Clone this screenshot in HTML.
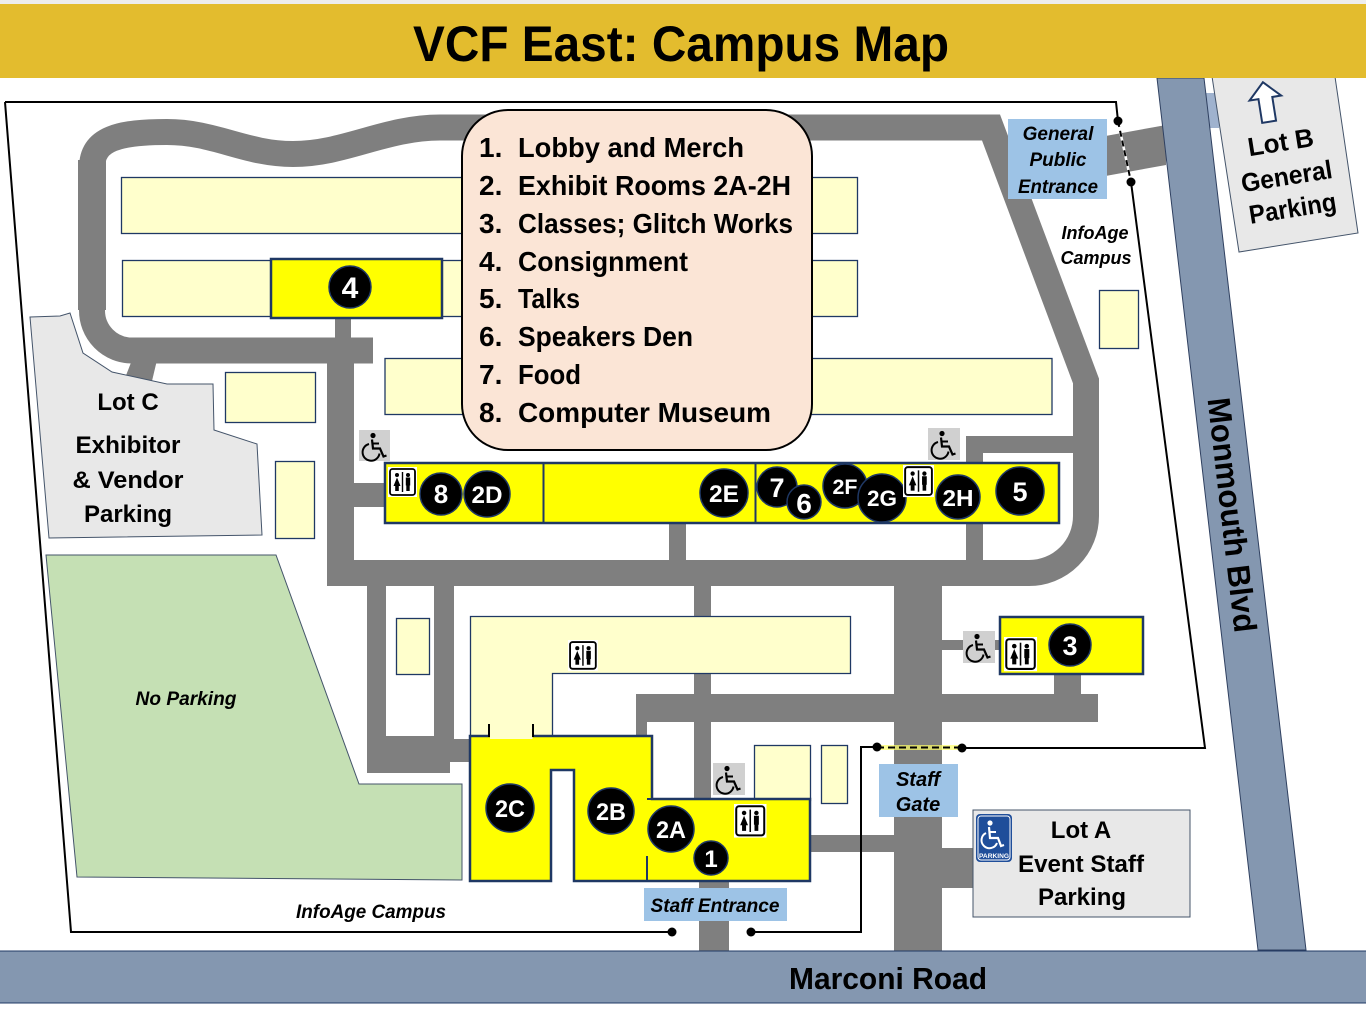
<!DOCTYPE html>
<html><head><meta charset="utf-8"><style>
html,body{margin:0;padding:0;background:#fff;}
svg{display:block;}
text{font-family:"Liberation Sans",sans-serif;}
</style></head><body>
<svg width="1366" height="1018" viewBox="0 0 1366 1018" xmlns="http://www.w3.org/2000/svg">
<rect x="0" y="0" width="1366" height="1018" fill="#fff"/>

<!-- No Parking -->
<polygon points="46,555 276,555 359,784 462,784 462,880 77,877" fill="#C5E0B4" stroke="#44546A" stroke-width="1"/>
<text x="186" y="705" font-size="19" font-weight="bold" font-style="italic" text-anchor="middle" textLength="101" lengthAdjust="spacingAndGlyphs">No Parking</text>

<!-- stub road into Lot C -->
<polygon points="132,360 157,360 152,381 125,378" fill="#7F7F7F"/>
<!-- Lot C -->
<polygon points="30,317 60,316 70,313 83,353 112,372 167,384 213,384 214,430 257,444 262,535 49,538" fill="#E8E8E8" stroke="#44546A" stroke-width="1"/>
<g font-size="24" font-weight="bold" text-anchor="middle">
<text x="128" y="410">Lot C</text>
<text x="128" y="453" textLength="105" lengthAdjust="spacingAndGlyphs">Exhibitor</text>
<text x="128" y="488" textLength="111" lengthAdjust="spacingAndGlyphs">&amp; Vendor</text>
<text x="128" y="522">Parking</text>
</g>

<!-- Roads -->
<g fill="#7F7F7F">
<rect x="78" y="160" width="28" height="150"/>
<rect x="335" y="316" width="16" height="24"/>
<rect x="327" y="362" width="27" height="224"/>
<rect x="353" y="483" width="33" height="24"/>
<rect x="367" y="585" width="19" height="188"/>
<rect x="434" y="585" width="20" height="177"/>
<rect x="367" y="736" width="83" height="37"/>
<rect x="434" y="739" width="38" height="23"/>
<rect x="669" y="521" width="17" height="41"/>
<rect x="694" y="585" width="17" height="215"/>
<rect x="636" y="694" width="462" height="28"/>
<rect x="636" y="694" width="11" height="42"/>
<rect x="894" y="585" width="48" height="366"/>
<rect x="942" y="640" width="58" height="10"/>
<rect x="1054" y="673" width="27" height="22"/>
<rect x="808" y="835" width="86" height="17"/>
<rect x="942" y="848" width="32" height="40"/>
<rect x="699" y="880" width="30" height="71"/>
<rect x="966" y="436" width="17" height="126"/>
<rect x="966" y="436" width="120" height="17"/>
<polygon points="1100,137 1166,125 1166,165 1100,177"/>
</g>
<path d="M373,350.5 L132,350.5 A40,40 0 0 1 92,310 L92,168 C92,138 120,132 167,132 C215,132 245,154 293,154 C345,154 385,127.5 440,127.5 L991,127.5 L1086,381 L1086,516 A57,57 0 0 1 1029,573 L327,573" fill="none" stroke="#7F7F7F" stroke-width="26" stroke-linejoin="miter"/>
<rect x="440" y="116" width="552" height="23" fill="#7F7F7F"/>

<!-- Light yellow buildings -->
<g fill="#FFFFCC" stroke="#1F3864" stroke-width="1.3">
<rect x="121.5" y="177.5" width="736" height="56"/>
<rect x="122.5" y="260.5" width="735" height="56"/>
<rect x="385" y="358.5" width="667" height="56"/>
<rect x="225.5" y="372.5" width="90" height="50"/>
<rect x="275.5" y="461.5" width="39" height="77"/>
<rect x="396.5" y="618.5" width="33" height="56"/>
<rect x="1099.5" y="290.5" width="39" height="58"/>
<rect x="754.5" y="745.5" width="56" height="55"/>
<rect x="821.5" y="745.5" width="26" height="58"/>
<polygon points="470.5,616.5 850.5,616.5 850.5,673.5 552.5,673.5 552.5,736 470.5,736"/>
</g>

<!-- Boundary -->
<g fill="none" stroke="#000" stroke-width="2">
<polyline points="5,102 1116,102 1118,121"/>
<polyline points="1131,182 1205,748 962,748"/>
<polyline points="877,747 861,747 861,932 751,932"/>
<polyline points="672,932 71,932 5,102"/>
</g>
<line x1="1118" y1="121" x2="1131" y2="182" stroke="#fff" stroke-width="2.5"/>
<line x1="1118" y1="121" x2="1131" y2="182" stroke="#000" stroke-width="2" stroke-dasharray="6,4"/>
<line x1="877" y1="747.5" x2="962" y2="747.5" stroke="#FFFF66" stroke-width="5" opacity="0.7"/>
<line x1="877" y1="747.5" x2="962" y2="747.5" stroke="#000" stroke-width="2" stroke-dasharray="7,4"/>
<g fill="#000">
<circle cx="1118" cy="121" r="4.5"/><circle cx="1131" cy="182" r="4.5"/>
<circle cx="877" cy="747" r="4.5"/><circle cx="962" cy="748" r="4.5"/>
<circle cx="751" cy="932" r="4.5"/><circle cx="672" cy="932" r="4.5"/>
</g>

<!-- Monmouth Blvd -->
<rect x="1205" y="93" width="14" height="35" fill="#9FB2CE"/>
<polygon points="1157,78 1204,78 1306,950 1258,950" fill="#8497B0" stroke="#2F4060" stroke-width="1"/>
<text transform="translate(1232,515) rotate(83.4)" font-size="32" font-weight="bold" text-anchor="middle" dominant-baseline="central" textLength="236" lengthAdjust="spacingAndGlyphs">Monmouth Blvd</text>

<!-- Marconi Road -->
<rect x="-2" y="951" width="1370" height="52" fill="#8497B0" stroke="#1F3864" stroke-width="1"/>
<text x="888" y="989" font-size="31" font-weight="bold" text-anchor="middle" textLength="198" lengthAdjust="spacingAndGlyphs">Marconi Road</text>

<!-- Yellow buildings -->
<g fill="#FFFF00" stroke="#1F3864" stroke-width="2.5">
<rect x="271" y="259" width="171" height="59"/>
<rect x="385" y="463" width="674" height="60"/>
<rect x="1000" y="617" width="143" height="57"/>
<polygon points="470,736 652,736 652,799 810,799 810,881 574,881 574,770 551,770 551,881 470,881"/>
</g>
<g stroke="#1F3864" stroke-width="2">
<line x1="543.5" y1="463" x2="543.5" y2="523"/>
<line x1="755.5" y1="463" x2="755.5" y2="523"/>
<line x1="647" y1="856" x2="647" y2="881"/>
<line x1="647" y1="799" x2="652" y2="799"/>
</g>
<rect x="490" y="733" width="42.5" height="6" fill="#FFFFCC"/>
<g stroke="#000" stroke-width="2">
<line x1="489" y1="724" x2="489" y2="737"/>
<line x1="533" y1="724" x2="533" y2="737"/>
</g>

<!-- Circles -->
<g fill="#000" stroke="#1F3864" stroke-width="1.5">
<circle cx="350" cy="287" r="21"/>
<circle cx="441" cy="494" r="21"/>
<circle cx="487" cy="494" r="23"/>
<circle cx="724" cy="493" r="24"/>
<circle cx="777" cy="487" r="20"/>
<circle cx="804" cy="502" r="17"/>
<circle cx="845" cy="486" r="22"/>
<circle cx="882" cy="498" r="24"/>
<circle cx="958" cy="497" r="22"/>
<circle cx="1020" cy="491" r="24"/>
<circle cx="1070" cy="645" r="21"/>
<circle cx="510" cy="808" r="24"/>
<circle cx="611" cy="811" r="23"/>
<circle cx="671" cy="829" r="23"/>
<circle cx="711" cy="858" r="17"/>
</g>
<g fill="#fff" font-weight="bold" text-anchor="middle">
<text x="350" y="298" font-size="30">4</text>
<text x="441" y="503" font-size="26">8</text>
<text x="487" y="503" font-size="24" textLength="31" lengthAdjust="spacingAndGlyphs">2D</text>
<text x="724" y="502" font-size="24" textLength="30" lengthAdjust="spacingAndGlyphs">2E</text>
<text x="777" y="497" font-size="27">7</text>
<text x="804" y="513" font-size="28">6</text>
<text x="845" y="494" font-size="21" textLength="25" lengthAdjust="spacingAndGlyphs">2F</text>
<text x="882" y="506" font-size="22" textLength="30" lengthAdjust="spacingAndGlyphs">2G</text>
<text x="958" y="506" font-size="23" textLength="31" lengthAdjust="spacingAndGlyphs">2H</text>
<text x="1020" y="501" font-size="27">5</text>
<text x="1070" y="655" font-size="27">3</text>
<text x="510" y="817" font-size="24" textLength="30" lengthAdjust="spacingAndGlyphs">2C</text>
<text x="611" y="820" font-size="24" textLength="30" lengthAdjust="spacingAndGlyphs">2B</text>
<text x="671" y="838" font-size="24" textLength="30" lengthAdjust="spacingAndGlyphs">2A</text>
<text x="711" y="867" font-size="24">1</text>
</g>

<!-- Restroom icons -->
<g>
<g transform="translate(388,467)"><rect width="29" height="30" fill="#fff"/><rect x="2" y="2" width="25" height="26" rx="2.5" fill="none" stroke="#000" stroke-width="1.8"/><line x1="14.5" y1="5" x2="14.5" y2="25" stroke="#000" stroke-width="1.4"/><circle cx="9" cy="8" r="2" fill="#000"/><path d="M9,10.5 L5.5,19 L12.5,19 Z" fill="#000"/><rect x="7.2" y="18" width="3.6" height="6" fill="#000"/><circle cx="20" cy="8" r="2" fill="#000"/><rect x="17.8" y="10.5" width="4.4" height="8" fill="#000"/><rect x="18.3" y="18" width="3.4" height="6" fill="#000"/></g>
<g transform="translate(903,465) scale(1.07)"><rect width="29" height="30" fill="#fff"/><rect x="2" y="2" width="25" height="26" rx="2.5" fill="none" stroke="#000" stroke-width="1.8"/><line x1="14.5" y1="5" x2="14.5" y2="25" stroke="#000" stroke-width="1.4"/><circle cx="9" cy="8" r="2" fill="#000"/><path d="M9,10.5 L5.5,19 L12.5,19 Z" fill="#000"/><rect x="7.2" y="18" width="3.6" height="6" fill="#000"/><circle cx="20" cy="8" r="2" fill="#000"/><rect x="17.8" y="10.5" width="4.4" height="8" fill="#000"/><rect x="18.3" y="18" width="3.4" height="6" fill="#000"/></g>
<g transform="translate(1004,637) scale(1.14)"><rect width="29" height="30" fill="#fff"/><rect x="2" y="2" width="25" height="26" rx="2.5" fill="none" stroke="#000" stroke-width="1.8"/><line x1="14.5" y1="5" x2="14.5" y2="25" stroke="#000" stroke-width="1.4"/><circle cx="9" cy="8" r="2" fill="#000"/><path d="M9,10.5 L5.5,19 L12.5,19 Z" fill="#000"/><rect x="7.2" y="18" width="3.6" height="6" fill="#000"/><circle cx="20" cy="8" r="2" fill="#000"/><rect x="17.8" y="10.5" width="4.4" height="8" fill="#000"/><rect x="18.3" y="18" width="3.4" height="6" fill="#000"/></g>
<g transform="translate(568,640) scale(1.03)"><rect width="29" height="30" fill="#fff"/><rect x="2" y="2" width="25" height="26" rx="2.5" fill="none" stroke="#000" stroke-width="1.8"/><line x1="14.5" y1="5" x2="14.5" y2="25" stroke="#000" stroke-width="1.4"/><circle cx="9" cy="8" r="2" fill="#000"/><path d="M9,10.5 L5.5,19 L12.5,19 Z" fill="#000"/><rect x="7.2" y="18" width="3.6" height="6" fill="#000"/><circle cx="20" cy="8" r="2" fill="#000"/><rect x="17.8" y="10.5" width="4.4" height="8" fill="#000"/><rect x="18.3" y="18" width="3.4" height="6" fill="#000"/></g>
<g transform="translate(734,804) scale(1.12)"><rect width="29" height="30" fill="#fff"/><rect x="2" y="2" width="25" height="26" rx="2.5" fill="none" stroke="#000" stroke-width="1.8"/><line x1="14.5" y1="5" x2="14.5" y2="25" stroke="#000" stroke-width="1.4"/><circle cx="9" cy="8" r="2" fill="#000"/><path d="M9,10.5 L5.5,19 L12.5,19 Z" fill="#000"/><rect x="7.2" y="18" width="3.6" height="6" fill="#000"/><circle cx="20" cy="8" r="2" fill="#000"/><rect x="17.8" y="10.5" width="4.4" height="8" fill="#000"/><rect x="18.3" y="18" width="3.4" height="6" fill="#000"/></g>
</g>

<!-- Wheelchair icons -->
<g>
<g transform="translate(359,430)"><rect width="31" height="31" fill="#D0D0D0"/><circle cx="14" cy="5.5" r="2.6" fill="#000"/><path d="M13,9.5 L14,18.5 L21,18.5 L24.5,26.5 L27.5,25.5" fill="none" stroke="#000" stroke-width="2.2"/><path d="M13.5,13.5 L20,13.5" stroke="#000" stroke-width="2"/><path d="M10,14 A8.5,8.5 0 1 0 20.5,23.5" fill="none" stroke="#000" stroke-width="2"/></g>
<g transform="translate(928,428)"><rect width="32" height="32" fill="#D0D0D0"/><circle cx="14" cy="5.5" r="2.6" fill="#000"/><path d="M13,9.5 L14,18.5 L21,18.5 L24.5,26.5 L27.5,25.5" fill="none" stroke="#000" stroke-width="2.2"/><path d="M13.5,13.5 L20,13.5" stroke="#000" stroke-width="2"/><path d="M10,14 A8.5,8.5 0 1 0 20.5,23.5" fill="none" stroke="#000" stroke-width="2"/></g>
<g transform="translate(963,631)"><rect width="32" height="32" fill="#D0D0D0"/><circle cx="14" cy="5.5" r="2.6" fill="#000"/><path d="M13,9.5 L14,18.5 L21,18.5 L24.5,26.5 L27.5,25.5" fill="none" stroke="#000" stroke-width="2.2"/><path d="M13.5,13.5 L20,13.5" stroke="#000" stroke-width="2"/><path d="M10,14 A8.5,8.5 0 1 0 20.5,23.5" fill="none" stroke="#000" stroke-width="2"/></g>
<g transform="translate(713,763)"><rect width="32" height="32" fill="#D0D0D0"/><circle cx="14" cy="5.5" r="2.6" fill="#000"/><path d="M13,9.5 L14,18.5 L21,18.5 L24.5,26.5 L27.5,25.5" fill="none" stroke="#000" stroke-width="2.2"/><path d="M13.5,13.5 L20,13.5" stroke="#000" stroke-width="2"/><path d="M10,14 A8.5,8.5 0 1 0 20.5,23.5" fill="none" stroke="#000" stroke-width="2"/></g>
</g>

<!-- Lot A -->
<rect x="973" y="810" width="217" height="107" fill="#E8E8E8" stroke="#44546A" stroke-width="1"/>
<g transform="translate(976,814)">
<rect width="36" height="48" rx="4" fill="#1F4E9A"/>
<rect x="2" y="2" width="32" height="44" rx="3" fill="none" stroke="#fff" stroke-width="1"/>
<circle cx="14" cy="9" r="2.6" fill="#fff"/>
<path d="M13,13 L14,24 L22,24 L25,32 L28,31" fill="none" stroke="#fff" stroke-width="2.2"/>
<path d="M13.5,18 L20,18" stroke="#fff" stroke-width="2"/>
<path d="M10,19 A8,8 0 1 0 21,29" fill="none" stroke="#fff" stroke-width="2"/>
<text x="18" y="44" font-size="6" fill="#fff" font-weight="bold" text-anchor="middle" textLength="30" lengthAdjust="spacingAndGlyphs">PARKING</text>
</g>
<g font-size="24" font-weight="bold" text-anchor="middle">
<text x="1081" y="838">Lot A</text>
<text x="1081" y="872" textLength="126" lengthAdjust="spacingAndGlyphs">Event Staff</text>
<text x="1082" y="905">Parking</text>
</g>

<!-- Blue label boxes -->
<rect x="1008" y="119" width="99" height="80" fill="#9DC3E6"/>
<g font-size="19" font-weight="bold" font-style="italic" text-anchor="middle">
<text x="1058" y="140">General</text>
<text x="1058" y="166">Public</text>
<text x="1058" y="193" textLength="80" lengthAdjust="spacingAndGlyphs">Entrance</text>
<text x="1095" y="239" font-size="18">InfoAge</text>
<text x="1096" y="264" font-size="18">Campus</text>
</g>
<rect x="879" y="764" width="79" height="53" fill="#9DC3E6"/>
<g font-size="20" font-weight="bold" font-style="italic" text-anchor="middle">
<text x="918" y="786">Staff</text>
<text x="918" y="811">Gate</text>
</g>
<rect x="644" y="888" width="143" height="33" fill="#9DC3E6"/>
<text x="715" y="912" font-size="19" font-weight="bold" font-style="italic" text-anchor="middle" textLength="129" lengthAdjust="spacingAndGlyphs">Staff Entrance</text>
<text x="371" y="918" font-size="19" font-weight="bold" font-style="italic" text-anchor="middle" textLength="150" lengthAdjust="spacingAndGlyphs">InfoAge Campus</text>

<!-- Legend -->
<rect x="462" y="110" width="350" height="340" rx="46" ry="46" fill="#FBE5D6" stroke="#000" stroke-width="2"/>
<g font-size="28" font-weight="bold">
<text x="479" y="157">1.</text><text x="518" y="157" textLength="226" lengthAdjust="spacingAndGlyphs">Lobby and Merch</text>
<text x="479" y="195">2.</text><text x="518" y="195" textLength="273" lengthAdjust="spacingAndGlyphs">Exhibit Rooms 2A-2H</text>
<text x="479" y="233">3.</text><text x="518" y="233" textLength="275" lengthAdjust="spacingAndGlyphs">Classes; Glitch Works</text>
<text x="479" y="271">4.</text><text x="518" y="271" textLength="170" lengthAdjust="spacingAndGlyphs">Consignment</text>
<text x="479" y="308">5.</text><text x="518" y="308" textLength="62" lengthAdjust="spacingAndGlyphs">Talks</text>
<text x="479" y="346">6.</text><text x="518" y="346" textLength="175" lengthAdjust="spacingAndGlyphs">Speakers Den</text>
<text x="479" y="384">7.</text><text x="518" y="384" textLength="63" lengthAdjust="spacingAndGlyphs">Food</text>
<text x="479" y="422">8.</text><text x="518" y="422" textLength="253" lengthAdjust="spacingAndGlyphs">Computer Museum</text>
</g>

<!-- Lot B sign -->
<polygon points="1211,70 1334,70 1358,233 1239,252" fill="#E8E8E8" stroke="#44546A" stroke-width="1"/>
<g transform="rotate(-9 1266 102)">
<path d="M1266,82 L1282,98 L1273,98 L1273,122 L1259,122 L1259,98 L1250,98 Z" fill="#fff" stroke="#1F3864" stroke-width="2" stroke-linejoin="miter"/>
</g>
<g font-size="26" font-weight="bold" text-anchor="middle">
<text transform="translate(1282,151) rotate(-9)">Lot B</text>
<text transform="translate(1288,185) rotate(-9)" textLength="92" lengthAdjust="spacingAndGlyphs">General</text>
<text transform="translate(1294,217) rotate(-9)" textLength="88" lengthAdjust="spacingAndGlyphs">Parking</text>
</g>

<!-- Header -->
<rect x="0" y="0" width="1366" height="4" fill="#EDEDED"/>
<rect x="0" y="4" width="1366" height="74" fill="#E3BC2E"/>
<text x="413" y="61" font-size="50" font-weight="bold" textLength="536" lengthAdjust="spacingAndGlyphs">VCF East: Campus Map</text>
</svg>
</body></html>
